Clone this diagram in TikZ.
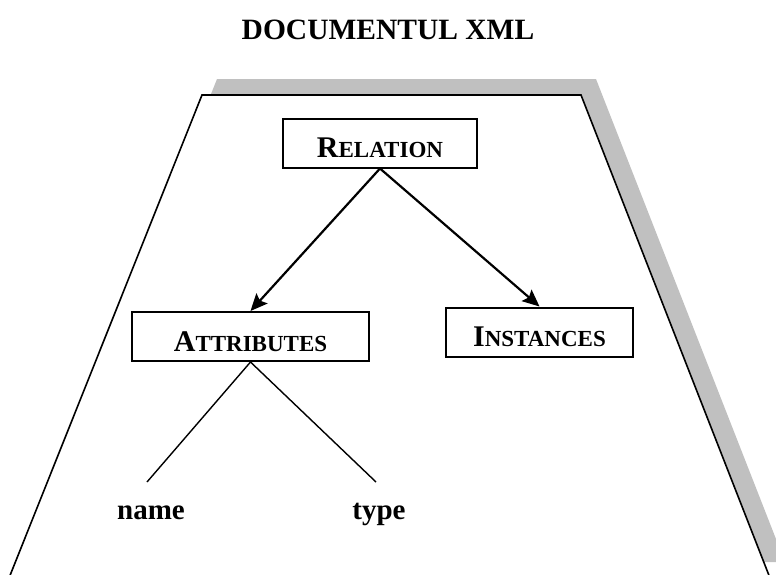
\documentclass[tikz,border=0pt]{standalone}
\usepackage{fontspec}
\setmainfont{Liberation Serif}
\usetikzlibrary{arrows.meta}
\definecolor{shadowgray}{RGB}{192,192,192}
\newcommand{\smc}[2]{{\fontsize{30}{30}\selectfont #1}{\fontsize{23}{23}\selectfont #2}}

\begin{document}
\begin{tikzpicture}[x=1pt,y=-1pt,
  box/.style={draw,line width=2pt,minimum height=49pt,text height=29pt,text depth=0pt,inner sep=0pt,font=\bfseries},
  arr/.style={line width=2.2pt,-{Stealth[length=17pt,width=15pt,inset=3pt]}},
  word/.style={anchor=base,font=\bfseries\fontsize{29}{29}\selectfont}]
\clip (0,0) rectangle (776,574);
\fill[shadowgray] (217,79) -- (596,79) -- (785,562) -- (24,562) -- cycle;
\filldraw[fill=white,line width=1.6pt] (202,95) -- (581,95) -- (770,578) -- (9,578) -- cycle;
\node[word,font=\bfseries\fontsize{29.5}{30}\selectfont] (t) at (388,39) {DOCUMENTUL XML};
\node[box,minimum width=194pt] (r) at (380,143) {\smc{R}{ELATION}};
\node[box,minimum width=237pt] (a) at (250.5,336.5) {\smc{A}{TTRIBUTES}};
\node[box,minimum width=187pt] (i) at (539.5,332) {\smc{I}{NSTANCES}};
\node[word] (n) at (151,519) {name};
\node[word] (ty) at (379,519) {type};
\coordinate (n0) at (147,482);
\coordinate (t0) at (376,482);
\draw[arr] (r.south) -- (a.north);
\draw[arr] (r.south) -- (i.north);
\draw[line width=1.4pt] (n0) -- (a.south) -- (t0);
\end{tikzpicture}
\end{document}
